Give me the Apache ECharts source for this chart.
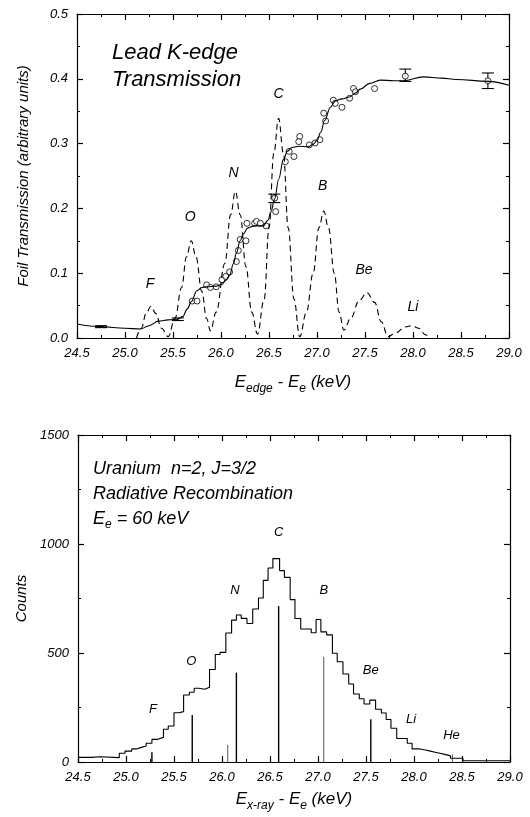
<!DOCTYPE html>
<html>
<head>
<meta charset="utf-8">
<script src="https://cdn.jsdelivr.net/npm/echarts@6/dist/echarts.min.js"></script>
<style>
html, body { margin: 0; padding: 0; background: #fff; }
#main { width: 530px; height: 817px; }
</style>
</head>
<body>
<div id="main"></div>
<script>
// ---- top panel: lead K-edge transmission ----
var fitCurve = [
    [24.50, 0.0216], [24.75, 0.0175], [25.00, 0.0150], [25.16, 0.0139], [25.25, 0.019],
    [25.35, 0.026], [25.45, 0.028], [25.55, 0.029], [25.60, 0.033], [25.65, 0.045],
    [25.69, 0.056], [25.75, 0.073], [25.80, 0.078], [25.85, 0.079], [25.95, 0.080],
    [26.01, 0.083], [26.05, 0.089], [26.09, 0.097], [26.13, 0.115], [26.16, 0.131],
    [26.20, 0.150], [26.23, 0.160], [26.28, 0.170], [26.35, 0.173], [26.44, 0.173],
    [26.49, 0.182], [26.52, 0.195], [26.56, 0.215], [26.60, 0.245], [26.65, 0.275],
    [26.69, 0.288], [26.74, 0.294], [26.82, 0.296], [26.91, 0.295], [26.96, 0.299],
    [27.00, 0.305], [27.04, 0.318], [27.08, 0.336], [27.14, 0.356], [27.19, 0.366],
    [27.26, 0.369], [27.34, 0.372], [27.40, 0.378], [27.45, 0.384], [27.55, 0.393],
    [27.66, 0.398], [27.80, 0.397], [27.90, 0.397], [28.11, 0.403], [28.30, 0.401],
    [28.45, 0.399], [28.78, 0.396], [29.00, 0.390]
];

var measured = [
    [25.70, 0.057], [25.75, 0.057], [25.85, 0.082], [25.89, 0.078], [25.95, 0.079],
    [26.01, 0.090], [26.05, 0.095], [26.09, 0.102], [26.16, 0.118], [26.18, 0.135],
    [26.20, 0.152], [26.26, 0.150], [26.27, 0.177], [26.35, 0.177], [26.37, 0.180],
    [26.41, 0.177], [26.47, 0.173], [26.56, 0.216], [26.57, 0.195], [26.67, 0.272],
    [26.71, 0.288], [26.76, 0.280], [26.82, 0.311], [26.81, 0.303], [26.92, 0.298],
    [26.98, 0.301], [27.03, 0.306], [27.07, 0.347], [27.09, 0.335], [27.17, 0.367],
    [27.19, 0.362], [27.26, 0.356], [27.34, 0.370], [27.38, 0.385], [27.40, 0.380],
    [27.60, 0.385], [27.92, 0.404], [28.78, 0.397]
];

// [E, low, high]
var errorBars = [
    [24.75, 0.0160, 0.0190], [25.55, 0.027, 0.031], [26.555, 0.209, 0.222],
    [27.92, 0.396, 0.415], [28.78, 0.385, 0.409]
];

var dashedLine = [
    [25.12, 0.0], [25.17, 0.015], [25.22, 0.038], [25.27, 0.049], [25.32, 0.038], [25.38, 0.015], [25.45, 0.002],
    [25.52, 0.030], [25.59, 0.078], [25.64, 0.125], [25.69, 0.150], [25.74, 0.125], [25.80, 0.072], [25.85, 0.030], [25.89, 0.011],
    [25.95, 0.040], [26.04, 0.115], [26.10, 0.190], [26.15, 0.226], [26.20, 0.190], [26.26, 0.110], [26.32, 0.040], [26.38, 0.006],
    [26.45, 0.060], [26.50, 0.170], [26.55, 0.285], [26.60, 0.339], [26.65, 0.285], [26.70, 0.170], [26.76, 0.060], [26.82, 0.002],
    [26.89, 0.040], [26.96, 0.100], [27.02, 0.170], [27.07, 0.196], [27.12, 0.170], [27.18, 0.100], [27.23, 0.040], [27.28, 0.012],
    [27.35, 0.030], [27.44, 0.058], [27.52, 0.070], [27.60, 0.055], [27.67, 0.025], [27.74, 0.002],
    [27.82, 0.008], [27.92, 0.017], [27.99, 0.019], [28.06, 0.015], [28.13, 0.005], [28.18, 0.0]
];

var topLabels = [
    [25.26, 0.083, 'F'], [25.68, 0.187, 'O'], [26.13, 0.254, 'N'], [26.60, 0.376, 'C'],
    [27.06, 0.234, 'B'], [27.49, 0.104, 'Be'], [28.00, 0.048, 'Li']
];

// ---- bottom panel: radiative recombination spectrum ----
var binEdges = [
    24.50, 24.64, 24.73, 24.93, 24.99, 25.06, 25.11, 25.16, 25.21, 25.27,
    25.33, 25.39, 25.44, 25.50, 25.55, 25.60, 25.66, 25.71, 25.76, 25.82,
    25.87, 25.93, 25.98, 26.04, 26.10, 26.15, 26.20, 26.26, 26.32, 26.38,
    26.43, 26.48, 26.53, 26.60, 26.65, 26.71, 26.76, 26.82, 26.93, 26.98,
    27.03, 27.09, 27.15, 27.20, 27.26, 27.32, 27.37, 27.43, 27.48, 27.54,
    27.60, 27.66, 27.71, 27.76, 27.82, 27.93, 27.98, 28.06, 28.12, 28.17,
    28.22, 28.27, 28.32, 28.38, 28.51, 29.00
];
var binCounts = [
    21, 24, 20, 40, 50, 60, 67, 73, 86, 104,
    113, 150, 165, 226, 231, 307, 320, 338, 334, 343,
    424, 493, 503, 592, 651, 674, 659, 635, 702, 752,
    833, 890, 933, 878, 847, 745, 658, 610, 593, 654,
    597, 583, 499, 460, 404, 358, 312, 290, 266, 284,
    242, 225, 195, 155, 108, 86, 60, 55, 50, 45,
    40, 35, 28, 17, 6, 6
];

// calculated line positions [E, counts, grey?]
var sticks = [
    [25.27, 45, 0], [25.69, 216, 0], [26.06, 78, 1], [26.15, 410, 0],
    [26.59, 715, 0], [27.06, 483, 1], [27.55, 196, 0], [28.40, 35, 1]
];

var bottomLabels = [
    [25.28, 242, 'F'], [25.68, 463, 'O'], [26.135, 789, 'N'], [26.59, 1054, 'C'],
    [27.06, 789, 'B'], [27.55, 419, 'Be'], [27.97, 196, 'Li'], [28.39, 124, 'He']
];

var FONT = '"Liberation Sans", Arial, sans-serif';

var histData = binEdges.map(function (e, i) { return [e, binCounts[i]]; });

function xAxisDef(grid, pos, showLabel, name, nameGap) {
    return {
        type: 'value', gridIndex: grid, position: pos,
        min: 24.5, max: 29, interval: 0.5,
        axisLine: { onZero: false, lineStyle: { color: '#000', width: 1.2 } },
        axisTick: { inside: true, length: 6, lineStyle: { color: '#000', width: 1.2 } },
        minorTick: { show: true, splitNumber: 2, length: 3, lineStyle: { color: '#000' } },
        splitLine: { show: false },
        axisLabel: {
            show: showLabel, margin: 9, color: '#000', fontFamily: FONT,
            fontStyle: 'italic', fontSize: 13,
            formatter: function (v) { return v.toFixed(1); }
        },
        name: name || '', nameLocation: 'middle', nameGap: nameGap || 0,
        nameTextStyle: {
            color: '#000', fontFamily: FONT, fontStyle: 'italic', fontSize: 17, lineHeight: 26,
            rich: { sub: { fontSize: 12, lineHeight: 12, verticalAlign: 'bottom', fontStyle: 'italic', fontFamily: FONT, color: '#000' } }
        }
    };
}

function yAxisDef(grid, pos, showLabel, max, interval, fmt, name) {
    return {
        type: 'value', gridIndex: grid, position: pos,
        min: 0, max: max, interval: interval,
        axisLine: { onZero: false, lineStyle: { color: '#000', width: 1.2 } },
        axisTick: { inside: true, length: 6, lineStyle: { color: '#000', width: 1.2 } },
        minorTick: { show: true, splitNumber: 2, length: 3, lineStyle: { color: '#000' } },
        splitLine: { show: false },
        axisLabel: {
            show: showLabel, margin: 9, color: '#000', fontFamily: FONT,
            fontStyle: 'italic', fontSize: 13, formatter: fmt
        },
        name: name || '', nameLocation: 'middle', nameGap: 46,
        nameTextStyle: { color: '#000', fontFamily: FONT, fontStyle: 'italic', fontSize: 15 }
    };
}

function textItem(size) {
    return function (params, api) {
        var p = api.coord([api.value(0), api.value(1)]);
        return {
            type: 'text', x: p[0], y: p[1],
            style: {
                text: api.value(2), fill: '#000', font: 'italic ' + size + 'px ' + FONT,
                align: 'center', verticalAlign: 'middle'
            }
        };
    };
}

var chart = echarts.init(document.getElementById('main'));

chart.setOption({
    animation: false,
    backgroundColor: '#fff',
    grid: [
        { left: 77, top: 14, width: 432, height: 324 },
        { left: 78, top: 435, width: 432, height: 327 }
    ],
    xAxis: [
        xAxisDef(0, 'bottom', true, 'E{sub|edge} - E{sub|e} (keV)', 31),
        xAxisDef(0, 'top', false),
        xAxisDef(1, 'bottom', true, 'E{sub|x-ray} - E{sub|e} (keV)', 24),
        xAxisDef(1, 'top', false)
    ],
    yAxis: [
        yAxisDef(0, 'left', true, 0.5, 0.1, function (v) { return v.toFixed(1); }, 'Foil Transmission (arbitrary units)'),
        yAxisDef(0, 'right', false, 0.5, 0.1),
        yAxisDef(1, 'left', true, 1500, 500, function (v) { return String(v); }, 'Counts'),
        yAxisDef(1, 'right', false, 1500, 500)
    ],
    graphic: [
        {
            type: 'text', left: 112, top: 39,
            style: { text: 'Lead K-edge\nTransmission', font: 'italic 22px ' + FONT, lineHeight: 27, fill: '#000' }
        },
        {
            type: 'text', left: 93, top: 456,
            style: {
                text: 'Uranium  n=2, J=3/2\nRadiative Recombination\nE{sub|e} = 60 keV',
                font: 'italic 18px ' + FONT, lineHeight: 25, fill: '#000',
                rich: { sub: { font: 'italic 12px ' + FONT, lineHeight: 12, verticalAlign: 'bottom', fill: '#000' } }
            }
        }
    ],
    series: [
        {
            name: 'theory', type: 'line', xAxisIndex: 0, yAxisIndex: 0,
            data: dashedLine, smooth: 0.4, smoothMonotone: 'x', showSymbol: false,
            lineStyle: { color: '#000', width: 1.1, type: [6, 4] }, clip: true
        },
        {
            name: 'fit', type: 'line', xAxisIndex: 0, yAxisIndex: 0,
            data: fitCurve, smooth: 0.4, smoothMonotone: 'x', showSymbol: false,
            lineStyle: { color: '#000', width: 1.1 }
        },
        {
            name: 'measured', type: 'scatter', xAxisIndex: 0, yAxisIndex: 0,
            data: measured, symbol: 'circle', symbolSize: 6,
            itemStyle: { color: '#fff', borderColor: '#000', borderWidth: 1 }
        },
        {
            name: 'errors', type: 'custom', xAxisIndex: 0, yAxisIndex: 0,
            data: errorBars,
            renderItem: function (params, api) {
                var lo = api.coord([api.value(0), api.value(1)]);
                var hi = api.coord([api.value(0), api.value(2)]);
                var w = 6;
                var st = { stroke: '#000', lineWidth: 1.1 };
                return {
                    type: 'group', children: [
                        { type: 'line', shape: { x1: lo[0], y1: lo[1], x2: hi[0], y2: hi[1] }, style: st },
                        { type: 'line', shape: { x1: lo[0] - w, y1: lo[1], x2: lo[0] + w, y2: lo[1] }, style: st },
                        { type: 'line', shape: { x1: hi[0] - w, y1: hi[1], x2: hi[0] + w, y2: hi[1] }, style: st }
                    ]
                };
            }
        },
        {
            name: 'topLabels', type: 'custom', xAxisIndex: 0, yAxisIndex: 0,
            data: topLabels, renderItem: textItem(14)
        },
        {
            name: 'spectrum', type: 'line', xAxisIndex: 2, yAxisIndex: 2,
            data: histData, step: 'end', showSymbol: false,
            lineStyle: { color: '#000', width: 1.1 }
        },
        {
            name: 'lines', type: 'custom', xAxisIndex: 2, yAxisIndex: 2,
            data: sticks,
            renderItem: function (params, api) {
                var p0 = api.coord([api.value(0), 0]);
                var p1 = api.coord([api.value(0), api.value(1)]);
                return {
                    type: 'line',
                    shape: { x1: p0[0], y1: p0[1], x2: p1[0], y2: p1[1] },
                    style: { stroke: api.value(2) ? '#555' : '#000', lineWidth: api.value(2) ? 1 : 1.4 }
                };
            }
        },
        {
            name: 'bottomLabels', type: 'custom', xAxisIndex: 2, yAxisIndex: 2,
            data: bottomLabels, renderItem: textItem(13)
        }
    ]
});
</script>
</body>
</html>
